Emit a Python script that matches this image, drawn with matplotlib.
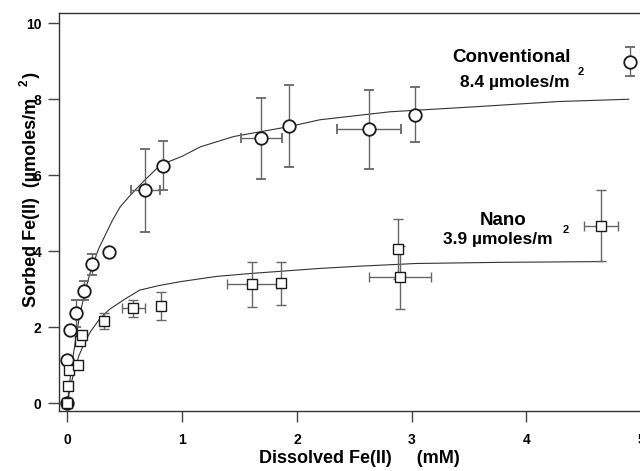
import matplotlib
matplotlib.use('Agg')
import matplotlib.pyplot as plt
import numpy as np

plt.rcParams['font.family'] = ['Liberation Sans', 'DejaVu Sans']
plt.rcParams['font.weight'] = 'bold'

# Conventional (circles)
conv_x = [0.0, 0.0, 0.024, 0.076, 0.145, 0.218, 0.363, 0.678, 0.836, 1.69, 1.93, 2.63, 3.03, 4.90]
conv_y = [0.0, 1.15, 1.93, 2.37, 2.96, 3.66, 3.99, 5.60, 6.25, 6.97, 7.30, 7.21, 7.59, 8.99]
conv_xerr = [0, 0, 0, 0, 0, 0, 0, 0.125, 0.03, 0.18, 0, 0.28, 0.03, 0]
conv_yerr = [0, 0, 0, 0.36, 0.25, 0.27, 0, 1.10, 0.64, 1.06, 1.08, 1.04, 0.72, 0.38]

# Nano (squares)
nano_x = [0.0, 0.003, 0.01, 0.096, 0.11, 0.13, 0.32, 0.575, 0.82, 1.61, 1.86, 2.88, 2.90, 4.65]
nano_y = [0.0, 0.45, 0.88, 1.02, 1.65, 1.80, 2.17, 2.50, 2.56, 3.13, 3.16, 4.06, 3.32, 4.67]
nano_xerr = [0, 0, 0, 0, 0, 0, 0, 0.10, 0, 0.22, 0.03, 0.03, 0.27, 0.15]
nano_yerr = [0, 0, 0, 0, 0, 0.10, 0.22, 0.22, 0.37, 0.60, 0.56, 0.80, 0.83, 0.93]

# Langmuir fit lines
fitc_x = [0, 0.02, 0.05, 0.1, 0.15, 0.2, 0.27, 0.31, 0.39, 0.46, 0.55, 0.66, 0.81, 1.0,
          1.16, 1.45, 1.93, 2.2, 2.81, 3.54, 4.28, 4.89]
fitc_y = [0, 0.55, 1.25, 2.2, 2.9, 3.45, 4.05, 4.3, 4.8, 5.17, 5.48, 5.83, 6.27, 6.5,
          6.75, 7.02, 7.28, 7.46, 7.67, 7.8, 7.94, 8.0]
fitn_x = [0, 0.02, 0.05, 0.1, 0.15, 0.2, 0.285, 0.37, 0.5, 0.63, 0.8, 0.98, 1.3, 1.61,
          2.2, 2.55, 3.04, 3.77, 4.67]
fitn_y = [0, 0.33, 0.74, 1.25, 1.6, 1.88, 2.24, 2.48, 2.74, 2.98, 3.1, 3.2, 3.34, 3.42,
          3.55, 3.61, 3.68, 3.71, 3.73]

xticks = [0, 1, 2, 3, 4, 5]
yticks = [0, 2, 4, 6, 8, 10]

fig = plt.figure(figsize=(6.4, 4.71), dpi=100)
ax = fig.add_axes([0.0927, 0.1274, 0.9385, 0.8443])

ax.plot(fitc_x, fitc_y, color='#333333', lw=0.8, zorder=1)
ax.plot(fitn_x, fitn_y, color='#333333', lw=0.8, zorder=1)

ax.errorbar(conv_x, conv_y, xerr=conv_xerr, yerr=conv_yerr, fmt='o', ms=9,
            mfc='white', mec='#1a1a1a', mew=1.3, ecolor='#666666', elinewidth=1,
            capsize=3.5, capthick=1, zorder=3)
ax.errorbar(nano_x, nano_y, xerr=nano_xerr, yerr=nano_yerr, fmt='s', ms=7.5,
            mfc='white', mec='#1a1a1a', mew=1.0, ecolor='#666666', elinewidth=1,
            capsize=3.5, capthick=1, zorder=3)

ax.set_xlim(-0.07, 5.163)
ax.set_ylim(-0.2, 10.26)
ax.set_xticks(xticks)
ax.set_yticks(yticks)
ax.tick_params(direction='out', length=8, width=1, colors='#444444',
               labelcolor='black', labelsize=10)
ax.tick_params(axis='y', pad=5)
ax.tick_params(axis='x', pad=8)
for lab in ax.get_xticklabels() + ax.get_yticklabels():
    lab.set_fontweight('bold')

ax.spines['right'].set_visible(False)
for s in ['left', 'bottom', 'top']:
    ax.spines[s].set_color('#333333')
    ax.spines[s].set_linewidth(1)

ax.set_xlabel('Dissolved Fe(II)     (mM)', fontsize=13, fontweight='bold', labelpad=2)
fig.text(0.0495, 0.598, 'Sorbed Fe(II)  (\u00b5moles/m    )', rotation=90,
         fontsize=13, fontweight='bold', ha='center', va='center')
fig.text(0.039, 0.824, '2', rotation=90, fontsize=8.5, fontweight='bold',
         ha='center', va='center')

ax.text(3.87, 9.09, 'Conventional', fontsize=13.5, fontweight='bold', ha='center', va='center')
ax.text(3.9, 8.43, '8.4 \u00b5moles/m', fontsize=12.5, fontweight='bold', ha='center', va='center')
ax.text(4.47, 8.72, '2', fontsize=8, fontweight='bold', ha='center', va='center')
ax.text(3.8, 4.82, 'Nano', fontsize=13.5, fontweight='bold', ha='center', va='center')
ax.text(3.75, 4.3, '3.9 \u00b5moles/m', fontsize=12.5, fontweight='bold', ha='center', va='center')
ax.text(4.34, 4.56, '2', fontsize=8, fontweight='bold', ha='center', va='center')

fig.savefig('out.png', dpi=100)
plt.close(fig)
